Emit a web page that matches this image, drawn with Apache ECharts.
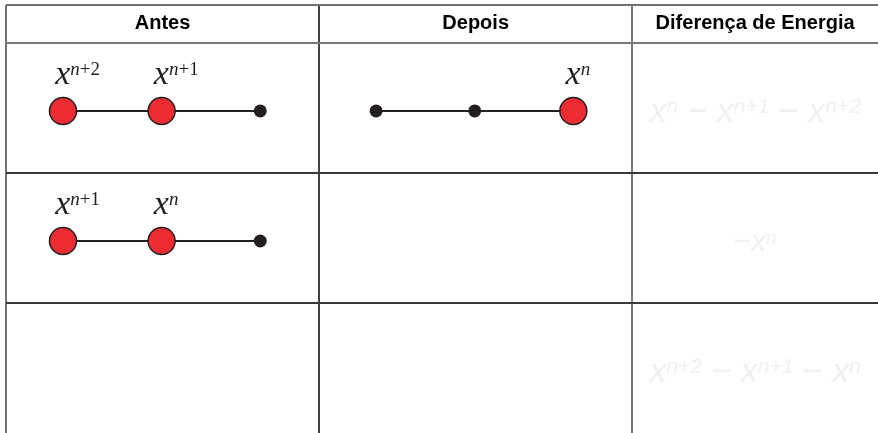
<!DOCTYPE html>
<html><head><meta charset="utf-8">
<script src="https://cdn.jsdelivr.net/npm/echarts@6/dist/echarts.min.js"></script>
<style>html,body{margin:0;padding:0;background:#fff}#c{width:878px;height:433px}</style>
</head><body><div id="c"></div>
<script>
// ---- data ----
const headers = ['Antes', 'Depois', 'Diferença de Energia'];
const colEdges = [0, 1, 2, 2.785];          // column boundaries (column units)
const rowEdges = [-0.2907, 0, 1, 2];         // header top, header bottom, row lines
const slots = [0.182, 0.497, 0.812];         // node positions inside a column
const nodeY = 0.524;                         // node row position inside a row
const chainCols = [0, 1, 0];
const chainRows = [0, 0, 1];
const chainKinds = [['big', 'big', 'dot'], ['dot', 'dot', 'big'], ['big', 'big', 'dot']];
const chainSups = [['n+2', 'n+1', ''], ['', '', 'n'], ['n+1', 'n', '']];
const energyRows = [0, 1, 2];
const energyY = [0.535, 0.54, 0.535];
const energyTerms = [
  [['', 'n'], ['−', 'n+1'], ['−', 'n+2']],
  [['−', 'n']],
  [['', 'n+2'], ['−', 'n+1'], ['−', 'n']]
];
const energySize = [34, 30, 34];

// ---- build ----
const series = [];
const lineColor = '#231f20';

function supLabel(sup) {
  if (!sup) return '';
  const rest = sup.slice(1);
  return '{x|x}{n|n}' + (rest ? '{p|' + rest + '}' : '');
}

chainCols.forEach((c, i) => {
  const r = chainRows[i];
  const w = colEdges[c + 1] - colEdges[c];
  const pts = slots.map(s => [colEdges[c] + s * Math.min(w, 1), r + nodeY]);
  series.push({
    type: 'line', data: pts, symbol: 'none', z: 2, silent: true,
    lineStyle: { color: lineColor, width: 2 }
  });
  const big = [], dots = [];
  pts.forEach((p, k) => {
    if (chainKinds[i][k] === 'big') {
      big.push({ value: p, label: { show: !!chainSups[i][k], formatter: supLabel(chainSups[i][k]) } });
    } else dots.push(p);
  });
  series.push({
    type: 'scatter', data: big, symbol: 'circle', symbolSize: 27, z: 3, silent: true,
    itemStyle: { color: '#ec2b33', borderColor: lineColor, borderWidth: 1.5, opacity: 1 },
    label: {
      show: true, position: [6.5, -22], align: 'left', verticalAlign: 'middle', color: lineColor,
      rich: {
        x: { fontFamily: 'Liberation Serif', fontStyle: 'italic', fontSize: 34, color: lineColor },
        n: { fontFamily: 'Liberation Serif', fontStyle: 'italic', fontSize: 19, color: lineColor, padding: [0, 0, 9, 0] },
        p: { fontFamily: 'Liberation Serif', fontSize: 19, color: lineColor, padding: [0, 0, 9, 0] }
      }
    }
  });
  series.push({
    type: 'scatter', data: dots, symbol: 'circle', symbolSize: 13, z: 3, silent: true,
    itemStyle: { color: lineColor, opacity: 1 }
  });
});

// headers
series.push({
  type: 'scatter', symbolSize: 1, silent: true, z: 4,
  itemStyle: { color: 'transparent' },
  data: headers.map((h, i) => ({ value: [(colEdges[i] + colEdges[i + 1]) / 2, (rowEdges[0] + rowEdges[1]) / 2], name: h })),
  label: {
    show: true, position: [0.5, 0.5], align: 'center', verticalAlign: 'middle', opacity: 1,
    formatter: p => p.name, fontFamily: 'Liberation Sans', fontWeight: 'bold', fontSize: 20, color: '#000000'
  }
});

// energy differences
energyRows.forEach((r, i) => {
  const F = energySize[i], S = Math.round(F * 0.62);
  const txt = energyTerms[i].map(([op, sup], k) =>
    (op ? (k === 0 ? '{m|' + op + '}' : '{m| ' + op + ' }') : '') + '{x|x}{s|' + sup + '}').join('');
  series.push({
    type: 'scatter', symbolSize: 1, silent: true, z: 4,
    itemStyle: { color: 'transparent' },
    data: [[(colEdges[2] + colEdges[3]) / 2, r + energyY[i]]],
    label: {
      show: true, position: [0.5, 0.5], align: 'center', verticalAlign: 'middle',
      formatter: txt,
      rich: {
        x: { fontFamily: 'Liberation Sans', fontStyle: 'italic', fontSize: F, color: '#ececec' },
        m: { fontFamily: 'Liberation Sans', fontSize: F, color: '#ececec' },
        s: { fontFamily: 'Liberation Sans', fontStyle: 'italic', fontSize: S, color: '#ececec', padding: [0, 0, Math.round(F * 0.3), 0] }
      }
    }
  });
});

// table lines
const vLines = [
  { xAxis: colEdges[0], lineStyle: { color: '#707070', width: 2, type: 'solid' } },
  { xAxis: colEdges[1], lineStyle: { color: '#444444', width: 2, type: 'solid' } },
  { xAxis: colEdges[2], lineStyle: { color: '#7a7a7a', width: 2, type: 'solid' } }
];
const hColors = ['#707070', '#787878', '#3a3a3a', '#3a3a3a'];
const hLines = rowEdges.map((v, i) => ({ yAxis: v, lineStyle: { color: hColors[i], width: 2, type: 'solid' } }));
series.push({
  type: 'line', data: [], z: 1, silent: true,
  markLine: {
    silent: true, symbol: 'none', animation: false,
    lineStyle: { type: 'solid' },
    label: { show: false }, emphasis: { disabled: true },
    data: vLines.concat(hLines)
  }
});

const chart = echarts.init(document.getElementById('c'));
chart.setOption({
  animation: false,
  backgroundColor: '#fff',
  grid: { left: 6, top: 5, width: colEdges[3] * 313.5, height: (3 - rowEdges[0]) * 130.7 },
  xAxis: { type: 'value', min: colEdges[0], max: colEdges[3], show: false },
  yAxis: { type: 'value', min: rowEdges[0], max: 3, inverse: true, show: false },
  series: series
});
</script></body></html>
